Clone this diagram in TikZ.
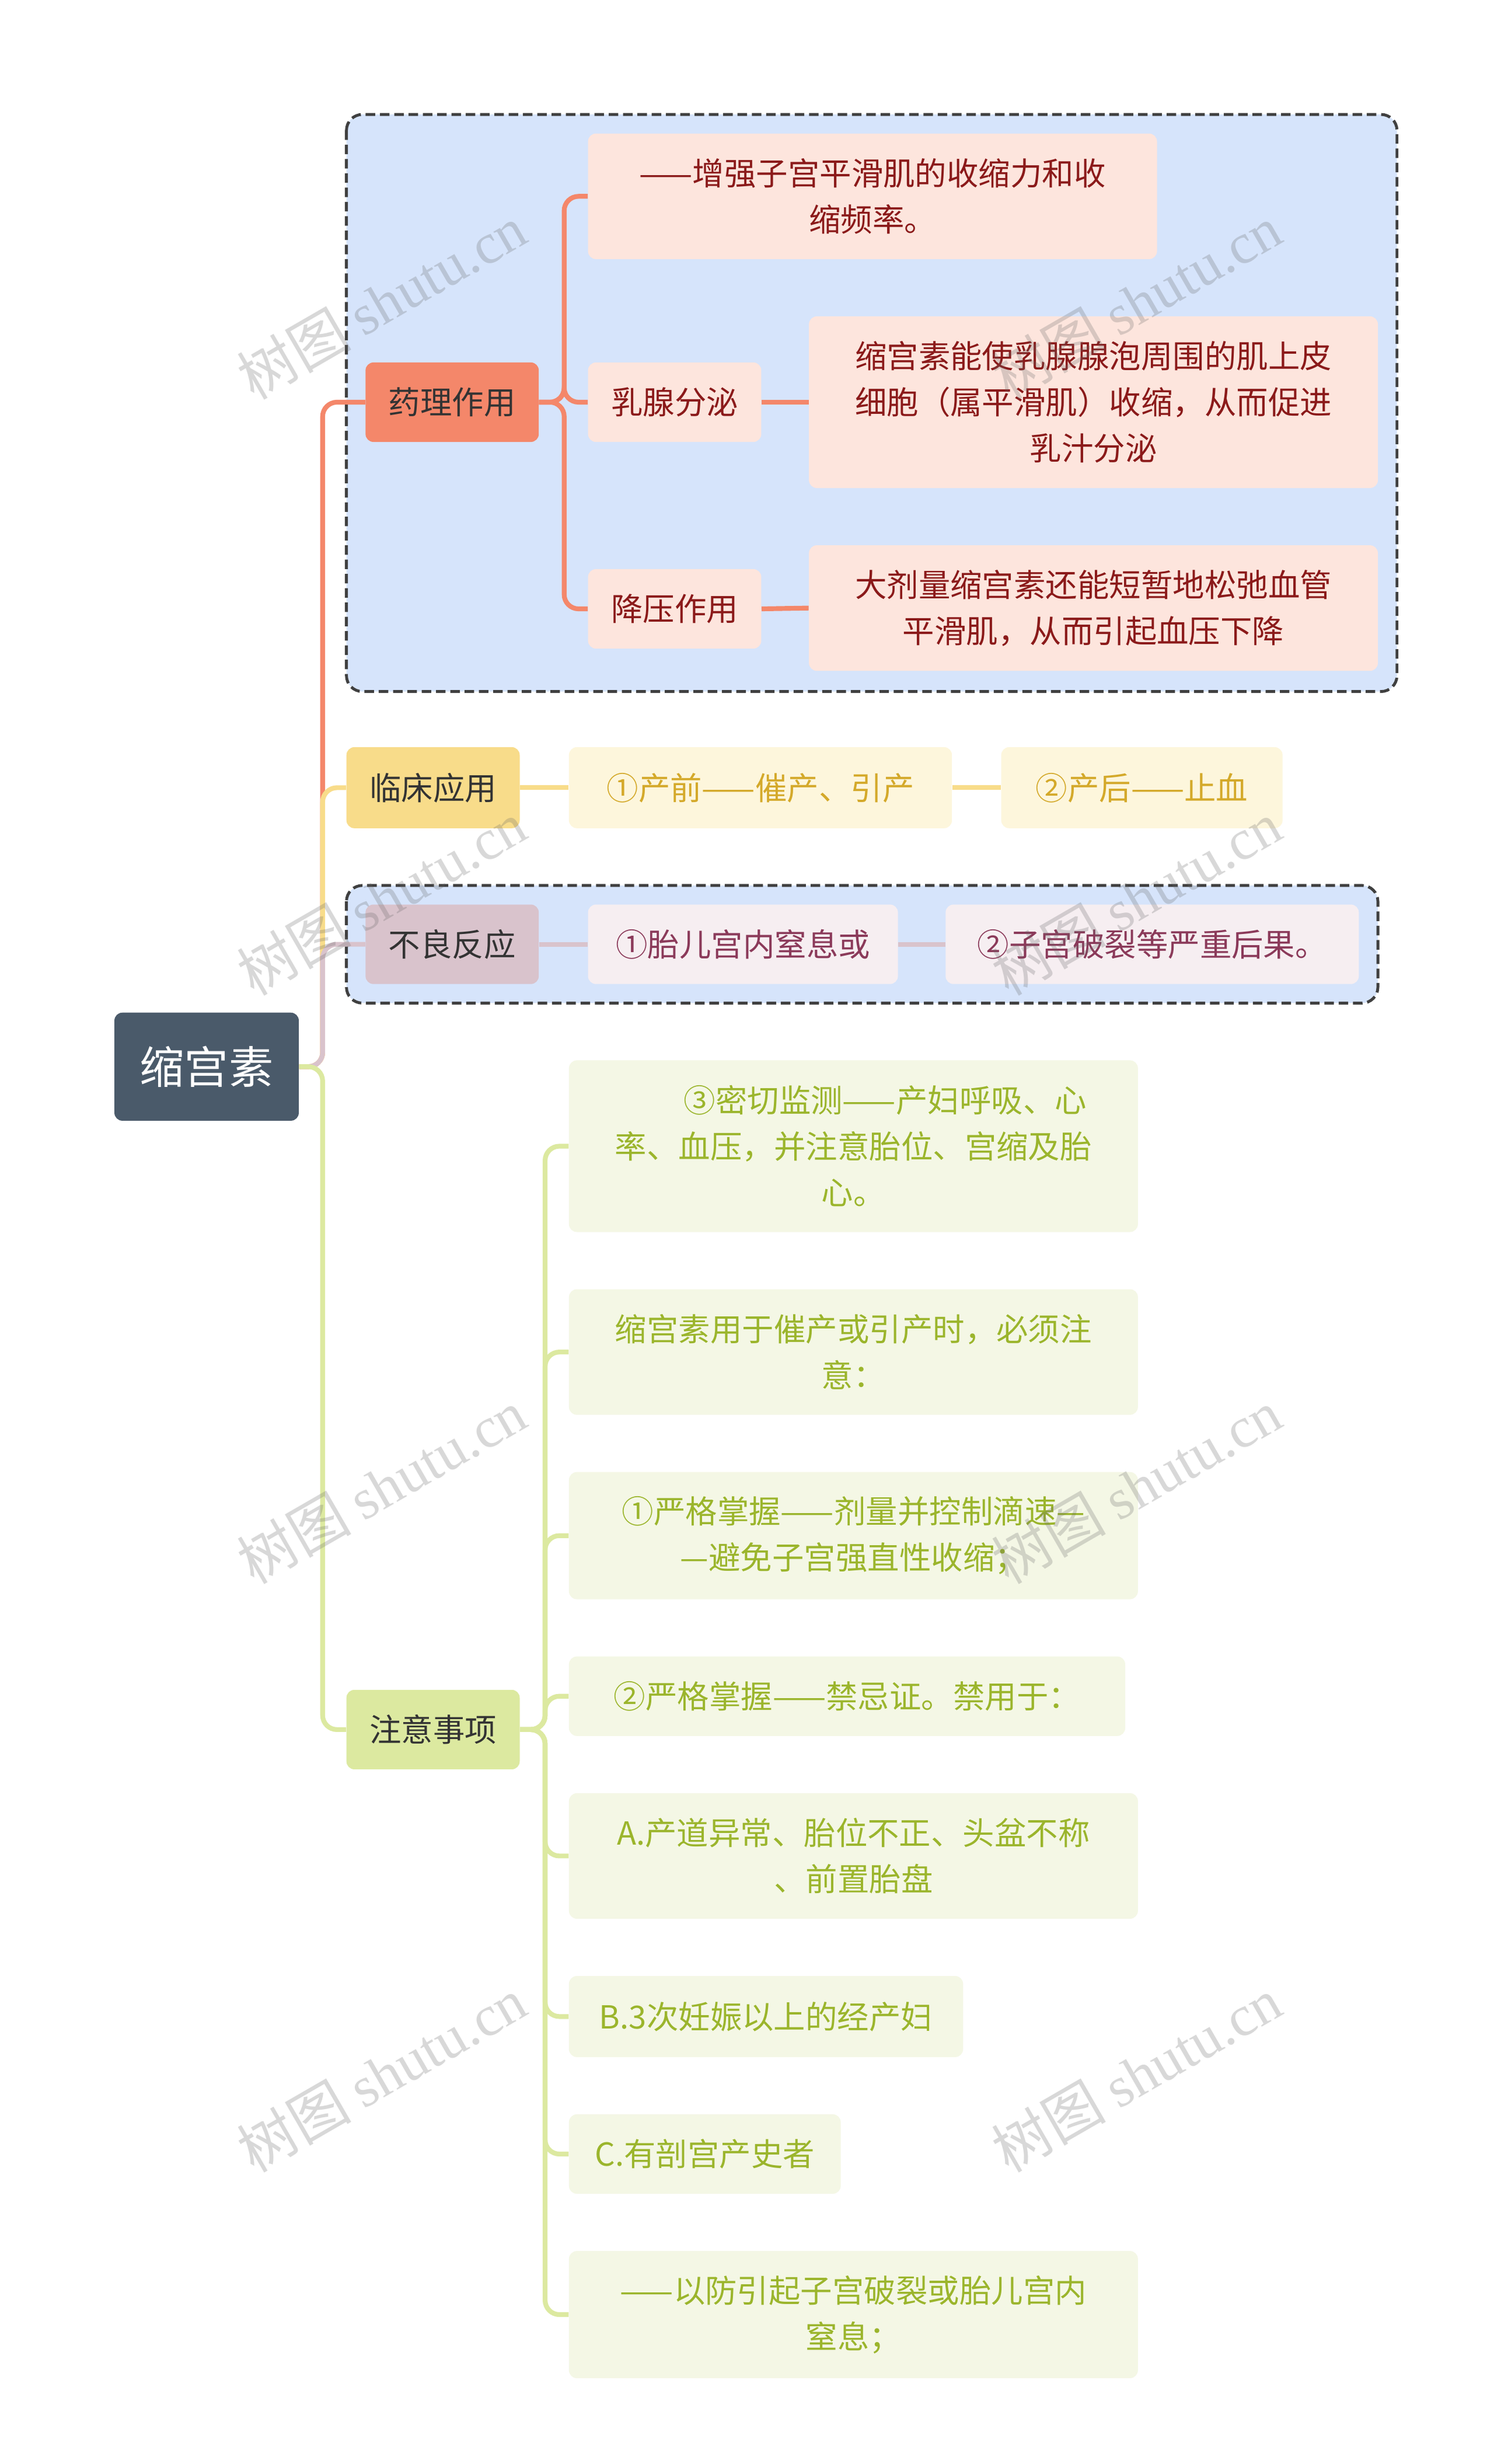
\documentclass[tikz,border=0pt]{standalone}
\usepackage{fontspec}
\setmainfont{Noto Sans CJK SC}
\newfontfamily\wm{Liberation Serif}
\newfontfamily\wmc{Noto Sans CJK SC}
\definecolor{rootc}{HTML}{4A5A6A}
\definecolor{regc}{HTML}{D6E4FB}
\definecolor{salm}{HTML}{F4876A}
\definecolor{salml}{HTML}{FDE5DD}
\definecolor{salmt}{HTML}{8B1A1A}
\definecolor{yel}{HTML}{F8DC8A}
\definecolor{yell}{HTML}{FDF6DC}
\definecolor{yelt}{HTML}{D4A92A}
\definecolor{pnk}{HTML}{D9C3CC}
\definecolor{pnkl}{HTML}{F6EEF1}
\definecolor{pnkt}{HTML}{8B3A5A}
\definecolor{grn}{HTML}{DCE9A0}
\definecolor{grnl}{HTML}{F4F7E5}
\definecolor{grnt}{HTML}{9BB52C}
\tikzset{
 bx/.style={rectangle, rounded corners=5pt, inner sep=2pt, align=center, font=\fontsize{20}{29}\selectfont},
 reg/.style={draw=black!75, dash pattern=on 6pt off 3pt, line width=1.8pt, fill=regc, rounded corners=10pt},
 ln/.style={line width=3pt, rounded corners=9pt},
}
\begin{document}
\begin{tikzpicture}[x=1pt,y=-1pt]
\useasboundingbox (0,0) rectangle (940,1550);
\fill[white] (0,0) rectangle (940,1550);
\draw[reg] (218,72) rectangle (879,435);
\draw[reg] (218,557) rectangle (867,631);
% root
\node[bx, fill=rootc, text=white, minimum width=116, minimum height=68, font=\fontsize{28}{34}\selectfont] (root) at (130,671) {缩宫素};
% level 1
\node[bx, fill=salm, text=black!80, minimum width=109, minimum height=50] (yl) at (284.5,253) {药理作用};
\node[bx, fill=yel, text=black!80, minimum width=109, minimum height=51] (lc) at (272.5,495.5) {临床应用};
\node[bx, fill=pnk, text=black!80, minimum width=109, minimum height=50] (bl) at (284.5,594) {不良反应};
\node[bx, fill=grn, text=black!80, minimum width=109, minimum height=50] (zy) at (272.5,1088) {注意事项};
% yl children
\node[bx, fill=salml, text=salmt, minimum width=358, minimum height=79, text width=350] (y1) at (549,123.5) {——增强子宫平滑肌的收缩力和收\\缩频率。};
\node[bx, fill=salml, text=salmt, minimum width=109, minimum height=50] (y2) at (424.5,253) {乳腺分泌};
\node[bx, fill=salml, text=salmt, minimum width=358, minimum height=108, text width=350] (y2a) at (688,253) {缩宫素能使乳腺腺泡周围的肌上皮\\细胞（属平滑肌）收缩，从而促进\\乳汁分泌};
\node[bx, fill=salml, text=salmt, minimum width=109, minimum height=50] (y3) at (424.5,383) {降压作用};
\node[bx, fill=salml, text=salmt, minimum width=358, minimum height=79, text width=350] (y3a) at (688,382.5) {大剂量缩宫素还能短暂地松弛血管\\平滑肌，从而引起血压下降};
% lc
\node[bx, fill=yell, text=yelt, minimum width=241, minimum height=51] (l1) at (478.5,495.5) {①产前——催产、引产};
\node[bx, fill=yell, text=yelt, minimum width=177, minimum height=51] (l2) at (718.5,495.5) {②产后——止血};
% bl
\node[bx, fill=pnkl, text=pnkt, minimum width=195, minimum height=50] (b1) at (467.5,594) {①胎儿宫内窒息或};
\node[bx, fill=pnkl, text=pnkt, minimum width=260, minimum height=50] (b2) at (725,594) {②子宫破裂等严重后果。};
% zy
\node[bx, fill=grnl, text=grnt, minimum width=358, minimum height=108, text width=350] (z1) at (537,721) {\hspace*{2em}③密切监测——产妇呼吸、心\\率、血压，并注意胎位、宫缩及胎\\心。};
\node[bx, fill=grnl, text=grnt, minimum width=358, minimum height=79, text width=350] (z2) at (537,850.5) {缩宫素用于催产或引产时，必须注\\意：};
\node[bx, fill=grnl, text=grnt, minimum width=358, minimum height=80, text width=350] (z3) at (537,966) {①严格掌握——剂量并控制滴速—\\—避免子宫强直性收缩；};
\node[bx, fill=grnl, text=grnt, minimum width=350, minimum height=50] (z4) at (533,1067) {②严格掌握——禁忌证。禁用于：};
\node[bx, fill=grnl, text=grnt, minimum width=358, minimum height=79, text width=350] (z5) at (537,1167.5) {A.产道异常、胎位不正、头盆不称\\、前置胎盘};
\node[bx, fill=grnl, text=grnt, minimum width=248, minimum height=51] (z6) at (482,1268.5) {B.3次妊娠以上的经产妇};
\node[bx, fill=grnl, text=grnt, minimum width=171, minimum height=50] (z7) at (443.5,1355) {C.有剖宫产史者};
\node[bx, fill=grnl, text=grnt, minimum width=358, minimum height=80, text width=350] (z8) at (537,1456) {——以防引起子宫破裂或胎儿宫内\\窒息；};
% connectors
\coordinate (t) at (203,671);
\draw[ln, salm] (root.east) -- (t) |- (yl.west);
\draw[ln, yel] (root.east) -- (t) |- (lc.west);
\draw[ln, pnk] (root.east) -- (t) |- (bl.west);
\draw[ln, grn] (root.east) -- (t) |- (zy.west);
\coordinate (ty) at (355,253);
\foreach \n in {y1,y2,y3} \draw[ln, salm] (yl.east) -- (ty) |- (\n.west);
\draw[ln, salm] (y2.east) -- (y2a.west);
\draw[ln, salm] (y3.east) -- (y3a.west);
\draw[ln, yel] (lc.east) -- (l1.west);
\draw[ln, yel] (l1.east) -- (l2.west);
\draw[ln, pnk] (bl.east) -- (b1.west);
\draw[ln, pnk] (b1.east) -- (b2.west);
\coordinate (tz) at (343,1088);
\foreach \n in {z1,z2,z3,z4,z5,z6,z7,z8} \draw[ln, grn] (zy.east) -- (tz) |- (\n.west);
% watermarks
\foreach \p in {(240,190),(715,190),(240,565),(715,565),(240,935),(715,935),(240,1305),(715,1305)}
  \node[rotate=30, text=black!60, opacity=0.25, font=\fontsize{36}{40}\selectfont] at \p {{\wmc 树图} {\wm shutu.cn}};
\end{tikzpicture}
\end{document}
